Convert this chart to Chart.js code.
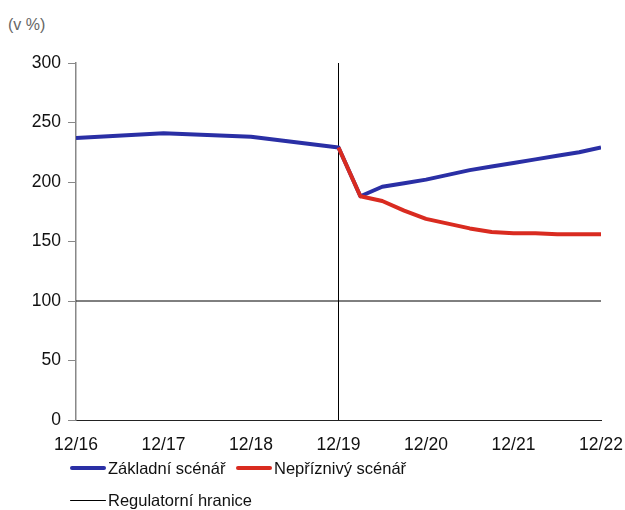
<!DOCTYPE html>
<html>
<head>
<meta charset="utf-8">
<script src="https://cdn.jsdelivr.net/npm/chart.js@4/dist/chart.umd.min.js"></script>
<style>
   html, body { margin: 0; padding: 0; background: #fff; }
   body { width: 625px; height: 510px; position: relative; overflow: hidden; font-family: 'Liberation Sans', Arial, sans-serif; }
   .unit { position: absolute; left: 8px; top: 16px; font-size: 16px; color: #666; }
   .chart__body { position: absolute; left: 0; top: 0; width: 625px; height: 460px; }
   .legend { position: absolute; left: 70px; top: 452px; font-size: 16.5px; color: #111; }
   .legend__row { display: flex; height: 32px; align-items: center; }
   .legend__item { display: flex; align-items: center; }
   .legend__line { display: inline-block; width: 36px; margin-right: 2px; border-radius: 2px; }
</style>
</head>
<body>
<div class="unit">(v %)</div>
<div class="chart__body"><canvas id="myChart" width="625" height="460"></canvas></div>
<div class="legend">
   <div class="legend__row">
      <div class="legend__item" style="width:166px"><span class="legend__line" style="height:4px;background:#2a2fa5"></span><span>Základní scénář</span></div>
      <div class="legend__item"><span class="legend__line" style="height:4px;background:#d92b20"></span><span>Nepříznivý scénář</span></div>
   </div>
   <div class="legend__row">
      <div class="legend__item"><span class="legend__line" style="height:1px;background:#000"></span><span>Regulatorní hranice</span></div>
   </div>
</div>
<script>
// quarters since 12/16
const tickLabels = ['12/16', '12/17', '12/18', '12/19', '12/20', '12/21', '12/22'];

const baseQuarters = [0, 4, 8, 12, 13, 14, 15, 16, 17, 18, 19, 20, 21, 22, 23, 24];
const baseValues = [237, 241, 238, 229, 188, 196, 199, 202, 206, 210, 213, 216, 219, 222, 225, 229];

const adverseQuarters = [12, 13, 14, 15, 16, 17, 18, 19, 20, 21, 22, 23, 24];
const adverseValues = [229, 188, 184, 176, 169, 165, 161, 158, 157, 157, 156, 156, 156];

// regulatory limit (horizontal) and 12/19 divider (vertical)
const limitQuarters = [0, 24, 12, 12, 12];
const limitValues = [100, 100, null, 0, 300];

const zip = (xs, ys) => xs.map((x, i) => ({ x: x, y: ys[i] }));

const data = {
   datasets: [
      {
         label: 'Regulatorní hranice',
         data: zip(limitQuarters, limitValues),
         borderColor: '#000',
         borderWidth: 1,
         pointRadius: 0,
         spanGaps: false,
         order: 3,
      },
      {
         label: 'Základní scénář',
         data: zip(baseQuarters, baseValues),
         borderColor: '#2a2fa5',
         borderWidth: 4,
         pointRadius: 0,
         order: 2,
      },
      {
         label: 'Nepříznivý scénář',
         data: zip(adverseQuarters, adverseValues),
         borderColor: '#d92b20',
         borderWidth: 4,
         pointRadius: 0,
         order: 1,
      },
   ]
};

Chart.defaults.font.family = "'Liberation Sans', Arial, sans-serif";
Chart.defaults.font.size = 17.5;
Chart.defaults.color = '#111';

const config = {
   type: 'line',
   data: data,
   options: {
      responsive: false,
      animation: false,
      layout: {
         padding: { top: 63, right: 24, left: 0, bottom: 0 }
      },
      scales: {
         x: {
            type: 'linear',
            min: 0,
            max: 24,
            afterFit: (scale) => {
               scale.height = 40;
               scale.paddingLeft = 0;
               scale.paddingRight = 0;
            },
            afterBuildTicks: (scale) => {
               scale.ticks = tickLabels.map((t, i) => ({ value: i * 4 }));
            },
            grid: { display: false },
            border: { color: '#222', width: 1 },
            ticks: {
               padding: 7,
               maxRotation: 0,
               autoSkip: false,
               callback: (value) => tickLabels[value / 4],
            }
         },
         y: {
            min: 0,
            max: 300,
            afterFit: (scale) => {
               scale.width = 76;
               scale.paddingTop = 0;
               scale.paddingBottom = 0;
            },
            grid: {
               drawOnChartArea: false,
               drawTicks: true,
               tickLength: 8,
               tickColor: '#888',
            },
            border: { color: '#888', width: 1.5 },
            ticks: {
               stepSize: 50,
               padding: 7,
            }
         }
      },
      plugins: {
         legend: { display: false },
         tooltip: { enabled: false },
      },
      elements: {
         line: { tension: 0, borderCapStyle: 'butt', borderJoinStyle: 'round' }
      }
   }
};

const myChart = new Chart(document.getElementById('myChart'), config);
</script>
</body>
</html>
